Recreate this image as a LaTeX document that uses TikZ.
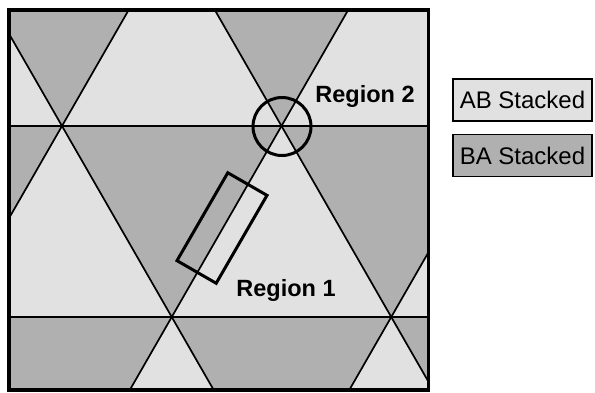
\documentclass[tikz,border=0pt]{standalone}
\usepackage{fontspec}
\setmainfont{Liberation Sans}
\definecolor{lightfill}{RGB}{225,225,225}
\definecolor{darkfill}{RGB}{176,176,176}
\tikzset{
  latline/.style={line width=1.7pt, black},
  frame/.style={line width=3.5pt, black},
  marker/.style={line width=3pt, black},
  legendbox/.style={draw=black, line width=1.5pt, minimum width=139pt, minimum height=42pt, inner sep=0pt,
     font=\fontsize{24}{28}\selectfont},
  lbl/.style={font=\fontsize{23.5}{28}\selectfont\bfseries, inner sep=0pt, anchor=base}
}
\begin{document}
\begin{tikzpicture}[x=1pt,y=-1pt]
\useasboundingbox (0,0) rectangle (595,392);
\fill[white] (0,0) rectangle (595,392);
\begin{scope}
  \clip (9,10) rectangle (428.5,390);
  \fill[lightfill] (9,10) rectangle (428.5,390);
  \foreach \j in {-1,0,1}{
    \foreach \i in {-2,...,2}{
      \fill[darkfill] ({62+219.5*\i+109.75*\j},{126+191*\j})
        -- ({62+219.5*(\i+1)+109.75*\j},{126+191*\j})
        -- ({62+219.5*\i+109.75*(\j+1)},{126+191*(\j+1)}) -- cycle;
    }
  }
  \draw[latline] (0,126) -- (440,126);
  \draw[latline] (0,317) -- (440,317);
  \foreach \i in {-2,...,2}{
    \draw[latline] ({62+219.5*\i-2*109.75},{126-2*191}) -- ({62+219.5*\i+2*109.75},{126+2*191});
  }
  \foreach \i in {-1,...,3}{
    \draw[latline] ({62+219.5*\i+2*109.75},{126-2*191}) -- ({62+219.5*\i-2*109.75},{126+2*191});
  }
\end{scope}
\draw[frame] (9,10) rectangle (428.5,390);
\draw[marker] (282,126.5) circle (29);
\draw[marker] (227.8,172.75) -- (267,195.35) -- (216.2,283.25) -- (177,260.65) -- cycle;
\node[lbl] (r2) at (365,102) {Region 2};
\node[lbl] (r1) at (286,296) {Region 1};
\node[legendbox, fill=lightfill] (ab) at (522.5,100) {AB Stacked};
\node[legendbox, fill=darkfill] (ba) at (522.5,155.5) {BA Stacked};
\end{tikzpicture}
\end{document}
